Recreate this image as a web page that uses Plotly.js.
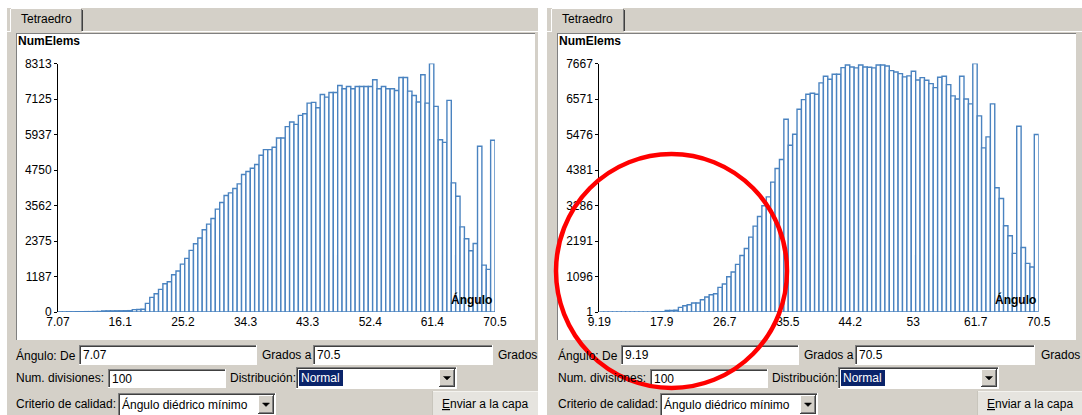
<!DOCTYPE html>
<html>
<head>
<meta charset="utf-8">
<script src="https://cdn.plot.ly/plotly-3.0.1.min.js"></script>
<style>
  html, body { margin: 0; padding: 0; background: #ffffff; }
  #chart { width: 1082px; height: 415px; }
</style>
</head>
<body>
<div id="chart"></div>
<script>
// Histogram settings shown in each panel
const angleFromA = 7.07;
const angleFromB = 9.19;
const angleTo = 70.5;
const numDivisions = 100;

// Element counts per angle bin (dihedral angle, degrees)
const countsA = [
  5, 5, 8, 8, 10, 10, 12, 12, 15, 18,
  35, 38, 38, 40, 40, 42, 45, 80, 85, 90,
  290, 490, 611, 757, 947, 1013, 1247, 1370, 1603, 1793,
  2060, 2283, 2473, 2750, 2940, 3130, 3440, 3663, 3897, 3985,
  4130, 4285, 4600, 4700, 4810, 4933, 5244, 5432, 5432, 5510,
  5821, 5821, 6200, 6355, 6277, 6578, 6633, 6989, 7011, 6833,
  7278, 7189, 7345, 7345, 7579, 7467, 7545, 7467, 7545, 7545,
  7545, 7545, 7767, 7467, 7545, 7467, 7467, 7412, 7846, 7846,
  7390, 7245, 7023, 7935, 6989, 8313, 6878, 5764, 5676, 7078,
  4318, 3873, 2849, 2448, 2047, 2292, 5543, 1569, 1425, 5743
];
const countsB = [
  1, 1, 1, 2, 2, 1, 3, 2, 4, 3,
  5, 6, 8, 10, 12, 45, 50, 55, 144, 195,
  226, 277, 277, 380, 462, 534, 565, 760, 863, 1089,
  1233, 1469, 1746, 1962, 2311, 2650, 2948, 3277, 3554, 4006,
  4427, 4704, 5947, 5146, 5485, 6255, 6553, 6718, 6749, 6718,
  7068, 7274, 7181, 7335, 7335, 7541, 7623, 7561, 7531, 7623,
  7561, 7551, 7531, 7623, 7623, 7592, 7448, 7407, 7356, 7253,
  7284, 7428, 7160, 7232, 7150, 7047, 6924, 7243, 7274, 7016,
  6667, 6574, 7274, 6574, 6420, 7667, 6050, 5064, 5403, 6420,
  3832, 3503, 2661, 2353, 1808, 5733, 1993, 1500, 1387, 5476
];

// Axis ticks
const xTicksA = [7.07, 16.1, 25.2, 34.3, 43.3, 52.4, 61.4, 70.5];
const xTickTextA = ['7.07', '16.1', '25.2', '34.3', '43.3', '52.4', '61.4', '70.5'];
const yTicksA = [0, 1187, 2375, 3562, 4750, 5937, 7125, 8313];
const xTicksB = [9.19, 17.9, 26.7, 35.5, 44.2, 53, 61.7, 70.5];
const xTickTextB = ['9.19', '17.9', '26.7', '35.5', '44.2', '53', '61.7', '70.5'];
const yTicksB = [1, 1096, 2191, 3286, 4381, 5476, 6571, 7667];

// ---------------------------------------------------------------
const W = 1082, H = 415;
const px = x => x / W;
const py = y => 1 - y / H;
const GRAY = '#d4d0c8';
const FONT = 'Liberation Sans, Arial, sans-serif';
const barLine = '#4a83c0';

function binWidth(from) { return (angleTo - from) / numDivisions; }

const traces = [
  {
    type: 'bar', xaxis: 'x', yaxis: 'y',
    y: countsA,
    x0: angleFromA + binWidth(angleFromA) / 2, dx: binWidth(angleFromA),
    marker: { color: '#ffffff', line: { color: barLine, width: 1.4 } },
    hoverinfo: 'x+y'
  },
  {
    type: 'bar', xaxis: 'x2', yaxis: 'y2',
    y: countsB,
    x0: angleFromB + binWidth(angleFromB) / 2, dx: binWidth(angleFromB),
    marker: { color: '#ffffff', line: { color: barLine, width: 1.4 } },
    hoverinfo: 'x+y'
  }
];

// ---------- window chrome helpers ----------
const shapes = [];
const annotations = [];

function rect(x0, y0, x1, y1, fill, line, lw, layer) {
  shapes.push({
    type: 'rect', xref: 'paper', yref: 'paper',
    x0: px(x0), x1: px(x1), y0: py(y1), y1: py(y0),
    fillcolor: fill,
    line: { color: line || 'rgba(0,0,0,0)', width: lw || 0 },
    layer: layer || 'below'
  });
}
function hline(x0, x1, y, color, layer) {
  shapes.push({ type: 'line', xref: 'paper', yref: 'paper',
    x0: px(x0), x1: px(x1), y0: py(y), y1: py(y),
    line: { color: color, width: 1 }, layer: layer || 'below' });
}
function vline(x, y0, y1, color, layer) {
  shapes.push({ type: 'line', xref: 'paper', yref: 'paper',
    x0: px(x), x1: px(x), y0: py(y0), y1: py(y1),
    line: { color: color, width: 1 }, layer: layer || 'below' });
}
function label(x, y, s, opts) {
  opts = opts || {};
  annotations.push({
    xref: 'paper', yref: 'paper', x: px(x), y: py(y),
    xanchor: opts.anchor || 'left', yanchor: 'middle',
    text: s, showarrow: false, borderpad: 0,
    font: { family: FONT, size: opts.size || 12, color: opts.color || '#000000' }
  });
}
// sunken edit box
function editBox(x0, y0, x1, y1) {
  rect(x0, y0, x1, y1, '#ffffff');
  hline(x0, x1, y0 + 0.5, '#808080');
  vline(x0 + 0.5, y0, y1, '#808080');
  hline(x0 + 1, x1 - 1, y0 + 1.5, '#404040');
  vline(x0 + 1.5, y0 + 1, y1 - 1, '#404040');
  hline(x0, x1, y1 - 0.5, '#ffffff');
  vline(x1 - 0.5, y0, y1, '#ffffff');
}
// raised drop-down arrow button
function arrowButton(x0, y0, x1, y1) {
  rect(x0, y0, x1, y1, GRAY);
  hline(x0, x1, y0 + 0.5, '#ffffff');
  vline(x0 + 0.5, y0, y1, '#ffffff');
  hline(x0, x1, y1 - 0.5, '#404040');
  vline(x1 - 0.5, y0, y1, '#404040');
  hline(x0 + 1, x1 - 1, y1 - 1.5, '#808080');
  vline(x1 - 1.5, y0 + 1, y1 - 1, '#808080');
  const cx = (x0 + x1) / 2, cy = (y0 + y1) / 2;
  shapes.push({ type: 'path', xref: 'paper', yref: 'paper', layer: 'below',
    path: `M ${px(cx - 3.5)} ${py(cy - 1.5)} L ${px(cx + 3.5)} ${py(cy - 1.5)} L ${px(cx)} ${py(cy + 2)} Z`,
    fillcolor: '#000000', line: { color: '#000000', width: 0.5 } });
}

function panel(p) {
  const d = p.dx;
  // outer grey panel
  rect(p.gx0, 8, p.gx1, H, GRAY);
  // tab strip highlight and tab
  hline(p.gx0, p.gx1, 31.5, '#ffffff');
  rect(p.tab0, 8, p.tab1, 33, GRAY);
  hline(p.tab0 + 1, p.tab1 - 1, 8.5, '#ffffff');
  vline(p.tab0 + 0.5, 9, 32, '#ffffff');
  vline(p.tab1 - 0.5, 9, 31, '#808080');
  vline(p.tab1 + 0.5, 10, 31, '#404040');
  label((p.tab0 + p.tab1) / 2, 19, 'Tetraedro', { anchor: 'center' });
  // white chart area
  rect(p.wx0, 33, p.wx1, 340, '#ffffff');
  hline(p.wx0, p.wx1, 33.5, '#808080');
  vline(p.wx0 + 0.5, 33, 340, '#808080');
  label(p.wx0 + 1, 41.5, '<b>NumElems</b>');
  label(p.axisEnd - 2, 299, '<b>Ángulo</b>', { anchor: 'right' });

  // row 1
  label(15 + d, 355, 'Ángulo: De');
  editBox(79 + d, 345, 257 + d, 365);
  label(82 + d, 355, p.fromText);
  label(261 + d, 355, 'Grados a');
  editBox(313 + d, 345, 493 + d, 365);
  label(316 + d, 355, p.toText);
  label(p.gradosX, 355, 'Grados');
  // row 2
  label(15 + d, 378, 'Num. divisiones:');
  editBox(108 + d, 369, 226 + d, 388);
  label(111 + d, 378.5, p.divText);
  label(229 + d, 378, 'Distribución:');
  editBox(296 + d, 367, 457 + d, 389);
  rect(299 + d, 370, 343 + d, 386, '#0a246a');
  label(300 + d, 378, 'Normal', { color: '#ffffff' });
  arrowButton(439 + d, 369, 455 + d, 387);
  // row 3
  label(15 + d, 404, 'Criterio de calidad:');
  editBox(118 + d, 393, 276 + d, 416);
  label(121 + d, 404, 'Ángulo diédrico mínimo');
  arrowButton(258 + d, 395, 274 + d, 414);
  // send button
  rect(p.btn0, 391, p.btn1, H, '#e6e4df');
  hline(p.btn0, p.btn1, 391.5, '#f4f3ef');
  vline(p.btn0 + 0.5, 391, H, '#c8c5bc');
  label((p.btn0 + p.btn1) / 2, 404,
        '<span style="text-decoration:underline">E</span>nviar a la capa', { anchor: 'center' });
}

panel({ dx: 0, gx0: 7, gx1: 538, wx0: 16, wx1: 535, tab0: 10, tab1: 82,
        axisEnd: 495, gradosX: 497, btn0: 432, btn1: 538,
        fromText: String(angleFromA), toText: String(angleTo), divText: String(numDivisions) });
panel({ dx: 542, gx0: 547, gx1: 1082, wx0: 557, wx1: 1076, tab0: 551, tab1: 624,
        axisEnd: 1038.7, gradosX: 1040, btn0: 977, btn1: 1082,
        fromText: String(angleFromB), toText: String(angleTo), divText: String(numDivisions) });

// red highlight ring around the low-angle tail
shapes.push({ type: 'circle', xref: 'paper', yref: 'paper', layer: 'above',
  x0: px(556), x1: px(787), y0: py(388), y1: py(154),
  line: { color: '#ff0000', width: 4.5 }, fillcolor: 'rgba(0,0,0,0)' });

const yDomain = [py(312), py(63.5)];
const tickFont = { family: FONT, size: 12, color: '#000000' };
function xAxis(domain, from, vals, text, anchor) {
  return { domain: domain, anchor: anchor, range: [from, angleTo],
    tickmode: 'array', tickvals: vals, ticktext: text,
    showline: false, showgrid: false, zeroline: false,
    ticks: '', ticklabelstandoff: 1, tickfont: tickFont, fixedrange: true };
}
function yAxis(top, base, vals, anchor) {
  return { domain: yDomain, anchor: anchor, range: [base, top],
    tickmode: 'array', tickvals: vals, ticktext: vals.map(String),
    showline: true, linecolor: '#000000', linewidth: 1,
    ticks: 'outside', ticklen: 3, tickcolor: '#000000', tickwidth: 1,
    showgrid: false, zeroline: false, tickfont: tickFont, fixedrange: true };
}

const layout = {
  width: W, height: H,
  margin: { l: 0, r: 0, t: 0, b: 0, pad: 0 },
  paper_bgcolor: '#ffffff',
  plot_bgcolor: 'rgba(0,0,0,0)',
  showlegend: false,
  bargap: 0,
  font: { family: FONT, size: 12, color: '#000000' },
  xaxis: xAxis([px(58), px(495)], angleFromA, xTicksA, xTickTextA, 'y'),
  yaxis: yAxis(8313, 0, yTicksA, 'x'),
  xaxis2: xAxis([px(599.3), px(1038.7)], angleFromB, xTicksB, xTickTextB, 'y2'),
  yaxis2: yAxis(7667, 1, yTicksB, 'x2'),
  shapes: shapes,
  annotations: annotations
};

Plotly.newPlot('chart', traces, layout, { displayModeBar: false, staticPlot: true });
</script>
</body>
</html>
